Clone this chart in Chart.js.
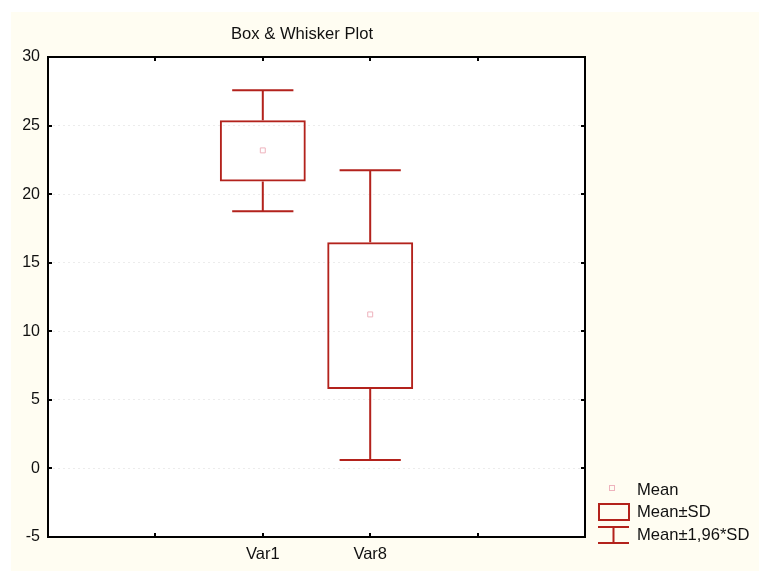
<!DOCTYPE html>
<html>
<head>
<meta charset="utf-8">
<script src="https://cdn.jsdelivr.net/npm/chart.js@4/dist/chart.umd.min.js"></script>
<style>
  html,body{margin:0;padding:0;background:#fff;}
  #wrap{width:763px;height:572px;position:relative;}
</style>
</head>
<body>
<div id="wrap"><canvas id="boxChart" width="763" height="572"></canvas></div>
<script>
const categories = ['Var1', 'Var8'];
const positions = [2, 3];
const means = [23.19, 11.23];
const sdLow = [20.93, 5.8];
const sdHigh = [25.38, 16.5];
const ciLow = [18.76, 0.62];
const ciHigh = [27.58, 21.75];
const yTicks = [-5, 0, 5, 10, 15, 20, 25, 30];

const red = '#b3221c';
const meanColor = '#eeb3bd';
const font = {family:'"Liberation Sans", Arial, sans-serif', size:16};

const frame = {
  id:'frame',
  beforeDraw(chart){
    const c = chart.ctx;
    c.save();
    c.fillStyle = '#fffdf2';
    c.fillRect(11, 12, 748, 559);
    const a = chart.chartArea;
    c.fillStyle = '#fff';
    c.fillRect(a.left, a.top, a.right - a.left, a.bottom - a.top);
    c.restore();
  },
  afterDatasetsDraw(chart){
    const c = chart.ctx, a = chart.chartArea;
    const xs = chart.scales.x, ys = chart.scales.y;
    c.save();
    // whiskers
    c.strokeStyle = red; c.lineWidth = 2;
    positions.forEach((p, i) => {
      const x = xs.getPixelForValue(p);
      const x0 = xs.getPixelForValue(p - 0.285), x1 = xs.getPixelForValue(p + 0.285);
      const segs = [[sdHigh[i], ciHigh[i]], [sdLow[i], ciLow[i]]];
      segs.forEach(([from, to]) => {
        const yf = ys.getPixelForValue(from), yt = ys.getPixelForValue(to);
        c.beginPath();
        c.moveTo(x, yf); c.lineTo(x, yt);
        c.moveTo(x0, yt); c.lineTo(x1, yt);
        c.stroke();
      });
    });
    // frame and inward ticks
    c.strokeStyle = '#000'; c.lineWidth = 2;
    c.strokeRect(a.left, a.top, a.right - a.left, a.bottom - a.top);
    c.beginPath();
    yTicks.forEach(v => {
      const y = Math.round(ys.getPixelForValue(v));
      c.moveTo(a.left, y); c.lineTo(a.left + 4, y);
      c.moveTo(a.right, y); c.lineTo(a.right - 4, y);
    });
    [1, 2, 3, 4].forEach(v => {
      const x = Math.round(xs.getPixelForValue(v));
      c.moveTo(x, a.top); c.lineTo(x, a.top + 4);
      c.moveTo(x, a.bottom); c.lineTo(x, a.bottom - 4);
    });
    c.stroke();
    // title
    c.fillStyle = '#111';
    c.font = '16.6px "Liberation Sans", Arial, sans-serif';
    c.textAlign = 'center'; c.textBaseline = 'middle';
    c.fillText('Box & Whisker Plot', 302, 34);
    // legend
    c.textAlign = 'left';
    c.fillText('Mean', 637, 490);
    c.fillText('Mean\u00b1SD', 637, 512);
    c.fillText('Mean\u00b11,96*SD', 637, 535);
    c.strokeStyle = meanColor; c.lineWidth = 1;
    c.strokeRect(609.5, 485.5, 5, 5);
    c.strokeStyle = red; c.lineWidth = 2;
    c.strokeRect(599, 504, 30, 16);
    c.beginPath();
    c.moveTo(598, 527); c.lineTo(629, 527);
    c.moveTo(613.5, 527); c.lineTo(613.5, 543);
    c.moveTo(598, 543); c.lineTo(629, 543);
    c.stroke();
    c.restore();
  }
};

new Chart(document.getElementById('boxChart'), {
  type:'bar',
  data:{
    datasets:[
      {type:'scatter', label:'Mean', data:positions.map((p,i)=>({x:p, y:means[i]})),
       pointStyle:'rect', pointRadius:3.5, borderColor:meanColor, backgroundColor:'#fff', borderWidth:1, order:0},
      {label:'Mean\u00b1SD', data:positions.map((p,i)=>({x:p, y:[sdLow[i], sdHigh[i]]})),
       borderColor:red, backgroundColor:'rgba(255,255,255,0)', borderWidth:2, borderSkipped:false,
       barPercentage:1, categoryPercentage:0.8, order:1}
    ]
  },
  options:{
    responsive:false, animation:false,
    layout:{padding:{left:0, right:178, top:57, bottom:0}},
    plugins:{legend:{display:false}, tooltip:{enabled:false}},
    scales:{
      x:{type:'linear', min:0, max:5, offset:false,
         grid:{display:false, drawTicks:false}, border:{display:false},
         ticks:{stepSize:1, padding:8, color:'#111', font:{...font, size:16.5},
                callback:v => { const i = positions.indexOf(v); return i >= 0 ? categories[i] : ''; }},
         afterFit:s => { s.height = 35; }},
      y:{min:-5, max:30,
         grid:{color:'#ececec', drawTicks:false, lineWidth:1}, border:{display:false, dash:[2,3]},
         ticks:{stepSize:5, padding:8, color:'#111', font},
         afterFit:s => { s.width = 48; }}
    }
  },
  plugins:[frame]
});
</script>
</body>
</html>
